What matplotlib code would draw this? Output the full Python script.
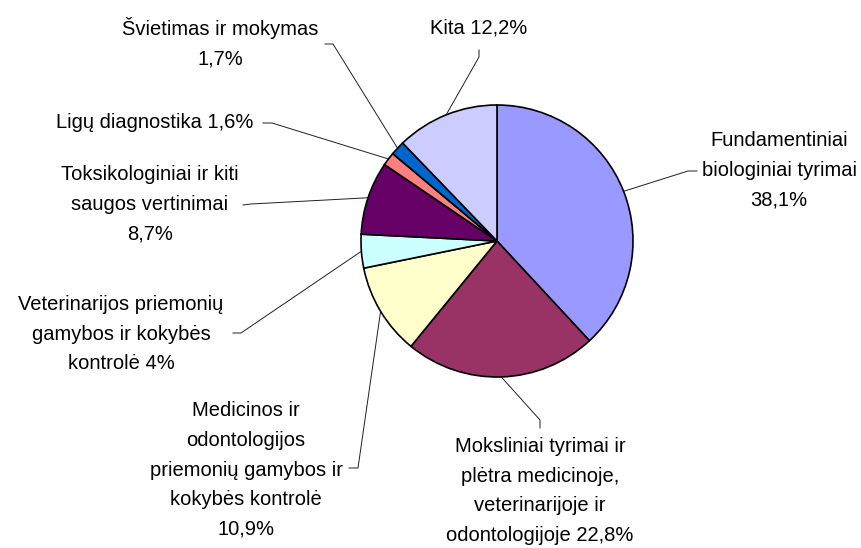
import numpy as np
import matplotlib
matplotlib.use("Agg")
import matplotlib.pyplot as plt

# ---------- DATA ----------
labels = [
    "Fundamentiniai\nbiologiniai tyrimai\n38,1%",
    "Moksliniai tyrimai ir\nplėtra medicinoje,\nveterinarijoje ir\nodontologijoje 22,8%",
    "Medicinos ir\nodontologijos\npriemonių gamybos ir\nkokybės kontrolė\n10,9%",
    "Veterinarijos priemonių\ngamybos ir kokybės\nkontrolė 4%",
    "Toksikologiniai ir kiti\nsaugos vertinimai\n8,7%",
    "Ligų diagnostika 1,6%",
    "Švietimas ir mokymas\n1,7%",
    "Kita 12,2%",
]
shares = [38.1, 22.8, 10.9, 4.0, 8.7, 1.6, 1.7, 12.2]
colors = ["#9999FF", "#993366", "#FFFFCC", "#CCFFFF",
          "#660066", "#FF8080", "#0066CC", "#CCCCFF"]

# ---------- LAYOUT (image pixel coords, y down) ----------
W, H = 861, 548
center_px = (497, 241)
radius = 136
# label centre, elbow of leader, end of the short tick at the label
label_pos = [(779, 170), (540, 491), (246, 470), (121, 334),
             (150, 204), (155, 123), (220, 43), (479, 28)]
elbows = [(688, 171), (540, 420), (358, 468), (241, 333),
          (251, 204), (272, 123), (333, 44), (479, 57)]
ticks = [(697, 171), (540, 428), (349, 468), (233, 333),
         (243, 205), (263, 123), (325, 44), (479, 50)]


def px(p):
    return p[0], H - p[1]


plt.rcParams['font.family'] = ['Liberation Sans', 'DejaVu Sans']

fig = plt.figure(figsize=(W / 100, H / 100), dpi=100)
ax = fig.add_axes([0, 0, 1, 1])

cx, cy = px(center_px)
wedges, _ = ax.pie(shares, colors=colors, startangle=90, counterclock=False,
                   center=(cx, cy), radius=radius, frame=True,
                   wedgeprops=dict(edgecolor='black', linewidth=1.2))
ax.set_xlim(0, W)
ax.set_ylim(0, H)
ax.set_aspect('equal')
ax.axis('off')

for w, lab, lp, el, tk in zip(wedges, labels, label_pos, elbows, ticks):
    mid = np.deg2rad((w.theta1 + w.theta2) / 2)
    ex, ey = cx + radius * np.cos(mid), cy + radius * np.sin(mid)
    xs = [ex, px(el)[0], px(tk)[0]]
    ys = [ey, px(el)[1], px(tk)[1]]
    ax.plot(xs, ys, color='#202020', linewidth=0.7, zorder=0.5)
    ax.text(*px(lp), lab, ha='center', va='center', multialignment='center',
            fontsize=14.5, linespacing=1.7, color='black')

fig.savefig("out.png", dpi=100, facecolor='white')
